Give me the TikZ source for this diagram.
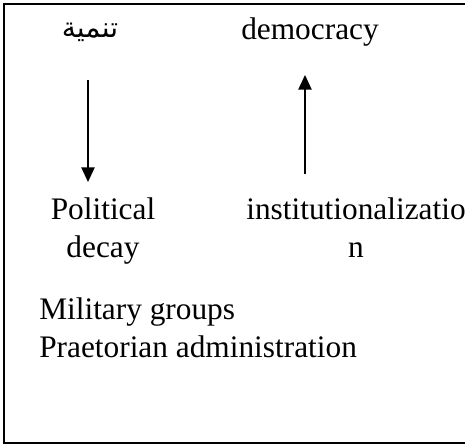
\documentclass[tikz,border=0pt]{standalone}
\usepackage{fontspec}
\setmainfont{Liberation Serif}
\newfontfamily\arabicfont[Script=Arabic, Scale=0.9]{DejaVu Sans}
\TeXXeTstate=1
\usetikzlibrary{arrows.meta,positioning}

\begin{document}
\begin{tikzpicture}[
    x=0.75pt, y=-0.75pt,
    every node/.style={font=\fontsize{23.5}{28.5}\selectfont, inner sep=0pt},
    word/.style={anchor=base},
    arr/.style={line width=1.1pt, -{Triangle[length=11pt, width=10pt]}}
]
    \useasboundingbox (0,0) rectangle (465,446);

    % Frame (open on the right)
    \draw[line width=1.2pt] (475,4) -- (4,4) -- (4,443) -- (475,443);

    % Top row
    \node[word] (tanmiya) at (90,37) {\arabicfont\beginR تنمية\endR};
    \node[word] (democracy) at (310,39) {democracy};

    % Second row (base = last line)
    \node[align=center, anchor=base] (decay) at (103,257) {Political\\decay};
    \node[align=center, anchor=base] (inst) at (356,257) {institutionalizatio\\n};

    % Bottom list
    \node[align=left, anchor=base west] (military) at (39,357) {Military groups\\Praetorian administration};

    % Arrows
    \coordinate (down top) at (88,80);
    \coordinate (down tip) at (88,182);
    \coordinate (up foot) at (305,174);
    \coordinate (up tip) at (305,75);

    \draw[arr] (down top) -- (down tip);
    \draw[arr] (up foot) -- (up tip);
\end{tikzpicture}
\end{document}
